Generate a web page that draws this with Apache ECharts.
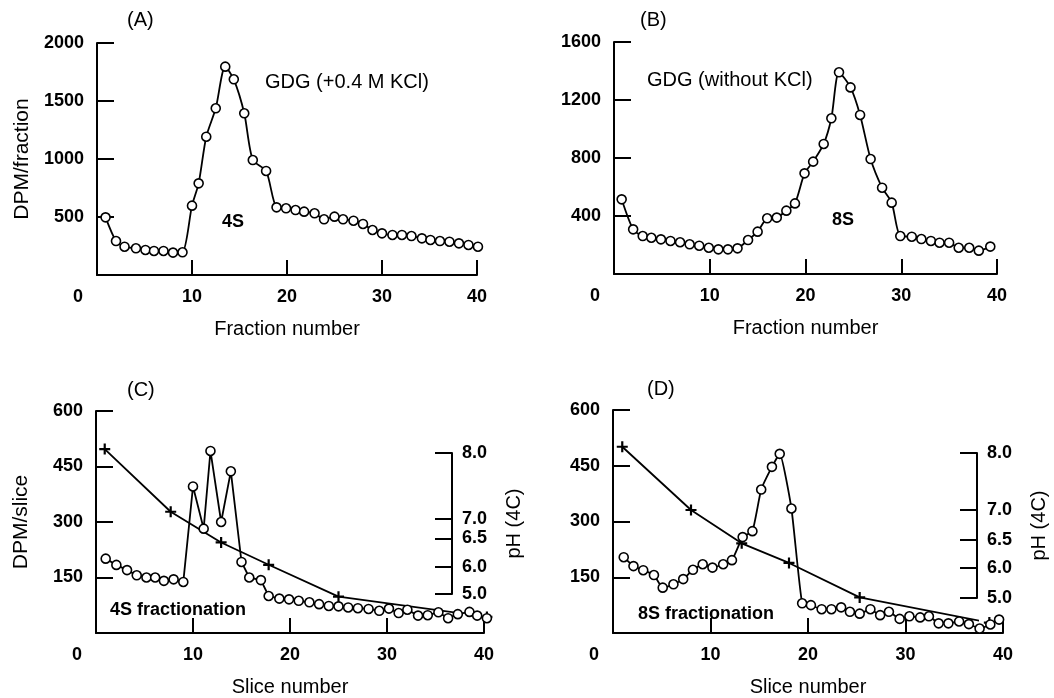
<!DOCTYPE html>
<html><head><meta charset="utf-8">
<script src="https://cdn.jsdelivr.net/npm/echarts@6/dist/echarts.min.js"></script>
<style>html,body{margin:0;padding:0;background:#fff}#c{width:1054px;height:698px}</style>
</head><body><div id="c"></div>
<script>
// ---------------- data ----------------
const X_TICKS = [0, 10, 20, 30, 40];
const A_Y_TICKS = [0, 500, 1000, 1500, 2000];
const B_Y_TICKS = [0, 400, 800, 1200, 1600];
const CD_Y_TICKS = [0, 150, 300, 450, 600];
const PH_TICKS = [5.0, 6.0, 6.5, 7.0, 8.0];

const A_FRACTION = [0.9, 2, 2.9, 4.1, 5.1, 6, 7, 8, 9, 10, 10.7, 11.5, 12.5, 13.5, 14.4, 15.5, 16.4, 17.8, 18.9, 19.9,
  20.9, 21.8, 22.9, 23.9, 25, 25.9, 27, 28, 29, 30, 31.1, 32.1, 33.1, 34.2, 35.1, 36.1, 37.1, 38.1, 39.1, 40.1];
const A_DPM = [497, 293, 244, 230, 216, 207, 207, 193, 196, 598, 790, 1192, 1437, 1796, 1687, 1394, 991, 897, 583, 575,
  560, 546, 532, 480, 503, 480, 468, 440, 388, 359, 345, 345, 336, 316, 302, 293, 287, 273, 259, 244];

const B_FRACTION = [0.8, 2, 3, 3.9, 4.9, 5.9, 6.9, 7.9, 8.9, 9.9, 10.9, 11.9, 12.9, 14, 15, 16, 17, 18, 18.9, 19.9,
  20.8, 21.9, 22.7, 23.5, 24.7, 25.7, 26.8, 28, 29, 29.9, 31.1, 32.1, 33.1, 34, 35, 36, 37.1, 38.1, 39.3];
const B_DPM = [515, 308, 262, 250, 239, 228, 219, 205, 195, 181, 170, 170, 177, 234, 292, 384, 389, 437, 487, 694,
  775, 897, 1074, 1391, 1287, 1097, 793, 595, 492, 262, 257, 241, 228, 216, 216, 181, 181, 161, 189];

const C_SLICE = [1.0, 2.1, 3.2, 4.2, 5.2, 6.1, 7.0, 8.0, 9.0, 10.0, 11.1, 11.8, 12.9, 13.9, 15.0, 15.8, 17.0, 17.8, 18.9, 19.9,
  20.9, 22.0, 23.0, 24.0, 25.0, 26.0, 27.0, 28.1, 29.2, 30.2, 31.2, 32.1, 33.2, 34.2, 35.3, 36.3, 37.3, 38.5, 39.3, 40.3];
const C_DPM = [201, 184, 170, 156, 150, 150, 141, 145, 138, 396, 282, 492, 300, 437, 192, 150, 143, 100, 93, 91,
  87, 83, 78, 73, 72, 69, 67, 65, 60, 66, 54, 63, 47, 48, 56, 40, 51, 57, 47, 40];
const C_PH_SLICE = [0.9, 7.7, 12.9, 17.8, 25.0, 40.3];
const C_PH = [8.06, 7.11, 6.43, 6.04, 4.90, 4.15];

const D_SLICE = [1.1, 2.1, 3.1, 4.2, 5.1, 6.2, 7.2, 8.2, 9.2, 10.2, 11.3, 12.2, 13.3, 14.3, 15.2, 16.3, 17.1, 18.3,
  19.4, 20.3, 21.4, 22.4, 23.4, 24.3, 25.3, 26.4, 27.4, 28.3, 29.4, 30.4, 31.5, 32.4, 33.4, 34.4, 35.5, 36.5, 37.6, 38.7, 39.6];
const D_DPM = [204, 180, 169, 156, 122, 131, 145, 170, 185, 176, 185, 196, 258, 274, 386, 447, 482, 335,
  80, 75, 64, 64, 69, 57, 52, 64, 48, 57, 38, 45, 42, 45, 26, 26, 31, 24, 12, 23, 36];
const D_PH_SLICE = [0.95, 8.0, 13.2, 18.05, 25.3, 38.6];
const D_PH = [8.11, 7.00, 6.44, 6.09, 5.02, 4.18];

// ---------------- scale definition for the hand-drawn (non-linear) pH axes ----------------
// fraction of the pH axis height at which each PH_TICKS value sits
const C_PH_SCALE = [0, 0.191, 0.394, 0.532, 1];
const D_PH_SCALE = [0, 0.207, 0.400, 0.607, 1];
function phMap(knots) {
  return function (p) {
    let i = 0;
    while (i < PH_TICKS.length - 2 && p > PH_TICKS[i + 1]) i++;
    const t = (p - PH_TICKS[i]) / (PH_TICKS[i + 1] - PH_TICKS[i]);
    return knots[i] + t * (knots[i + 1] - knots[i]);
  };
}
const cPh = phMap(C_PH_SCALE), dPh = phMap(D_PH_SCALE);

// ---------------- layout ----------------
const G_A = { left: 97, top: 43, width: 380, height: 232 };
const G_B = { left: 614, top: 42, width: 383, height: 232 };
const G_C = { left: 96, top: 411, width: 388, height: 223 };
const G_D = { left: 613, top: 410, width: 390, height: 224 };
// pH sub-grids: same left edge / x scale as the panel, right edge at the pH axis
const G_CPH = { left: 96, top: 453, width: 356, height: 141 };
const G_DPH = { left: 613, top: 453, width: 364, height: 145 };
const X_MAX = X_TICKS[X_TICKS.length - 1];

// ---------------- styling ----------------
const FONT = 'Liberation Sans';
const pairs = (xs, ys, f) => xs.map((x, i) => [x, f ? f(ys[i]) : ys[i]]);
const PLUS = 'path://M4,0H6V4H10V6H6V10H4V6H0V4H4Z';

function xAxis(grid, name) {
  return {
    gridIndex: grid, type: 'value', min: X_TICKS[0], max: X_MAX, interval: 10,
    axisLine: { onZero: false, lineStyle: { color: '#000', width: 2 } },
    axisTick: { inside: true, length: 15, lineStyle: { color: '#000', width: 2 } },
    splitLine: { show: false },
    axisLabel: {
      margin: 13, color: '#000', fontFamily: FONT, fontSize: 18, fontWeight: 'bold',
      formatter: v => v === 0 ? '{z|0}' : String(v),
      rich: { z: { fontFamily: FONT, fontSize: 18, fontWeight: 'bold', color: '#000', padding: [0, 38, 0, 0] } }
    },
    name: name, nameLocation: 'middle', nameGap: 44,
    nameTextStyle: { color: '#000', fontFamily: FONT, fontSize: 20 }
  };
}
function hiddenX(grid, g, main) {
  return { gridIndex: grid, type: 'value', min: 0, max: X_MAX * g.width / main.width, show: false };
}
function yAxis(grid, ticks, name) {
  return {
    gridIndex: grid, type: 'value', min: ticks[0], max: ticks[ticks.length - 1], interval: ticks[1] - ticks[0],
    axisLine: { show: true, onZero: false, lineStyle: { color: '#000', width: 2 } },
    axisTick: { show: true, inside: true, length: 17, lineStyle: { color: '#000', width: 2 } },
    splitLine: { show: false },
    axisLabel: { margin: 13, color: '#000', fontFamily: FONT, fontSize: 18, fontWeight: 'bold',
      formatter: v => v === 0 ? '' : String(v) },
    name: name || '', nameLocation: 'middle', nameGap: 64, nameRotate: 90,
    nameTextStyle: { color: '#000', fontFamily: FONT, fontSize: 21 }
  };
}
function phAxis(grid, knots) {
  const pos = knots.slice();
  return {
    gridIndex: grid, type: 'value', min: 0, max: 1, position: 'right',
    axisLine: { show: true, onZero: false, lineStyle: { color: '#000', width: 2 } },
    axisTick: { show: true, inside: true, length: 17, customValues: pos, lineStyle: { color: '#000', width: 2 } },
    splitLine: { show: false },
    axisLabel: { margin: 10, color: '#000', fontFamily: FONT, fontSize: 18, fontWeight: 'bold', customValues: pos,
      formatter: v => { let b = 0; pos.forEach((k, i) => { if (Math.abs(k - v) < Math.abs(pos[b] - v)) b = i; }); return PH_TICKS[b].toFixed(1); } },
    name: 'pH (4C)', nameLocation: 'middle', nameGap: 52, nameRotate: 90,
    nameTextStyle: { color: '#000', fontFamily: FONT, fontSize: 20 }
  };
}
function dpmSeries(idx, xs, ys, smooth) {
  return {
    type: 'line', xAxisIndex: idx, yAxisIndex: idx, data: pairs(xs, ys), smooth: smooth, clip: false, z: 3,
    symbol: 'circle', symbolSize: 9, showAllSymbol: true,
    itemStyle: { color: '#fff', borderColor: '#000', borderWidth: 1.6 },
    lineStyle: { color: '#000', width: 1.8 }
  };
}
function phSeries(idx, xs, ys, f) {
  return {
    type: 'line', xAxisIndex: idx, yAxisIndex: idx, data: pairs(xs, ys, f), clip: false, z: 2,
    symbol: PLUS, symbolSize: 11, itemStyle: { color: '#000' },
    lineStyle: { color: '#000', width: 1.8 }
  };
}
function txt(x, y, s, opts) {
  return { type: 'text', x: x, y: y, style: Object.assign({ text: s, fill: '#000', font: '20px "' + FONT + '"',
    align: 'left', verticalAlign: 'middle' }, opts || {}) };
}

const option = {
  animation: false,
  backgroundColor: '#fff',
  grid: [G_A, G_B, G_C, G_D, G_CPH, G_DPH],
  xAxis: [
    xAxis(0, 'Fraction number'), xAxis(1, 'Fraction number'), xAxis(2, 'Slice number'), xAxis(3, 'Slice number'),
    hiddenX(4, G_CPH, G_C), hiddenX(5, G_DPH, G_D)
  ],
  yAxis: [
    yAxis(0, A_Y_TICKS, 'DPM/fraction'), yAxis(1, B_Y_TICKS), yAxis(2, CD_Y_TICKS, 'DPM/slice'), yAxis(3, CD_Y_TICKS),
    phAxis(4, C_PH_SCALE), phAxis(5, D_PH_SCALE)
  ],
  series: [
    dpmSeries(0, A_FRACTION, A_DPM, 0.25),
    dpmSeries(1, B_FRACTION, B_DPM, 0.25),
    dpmSeries(2, C_SLICE, C_DPM, false),
    dpmSeries(3, D_SLICE, D_DPM, 0.15),
    phSeries(4, C_PH_SLICE, C_PH, cPh),
    phSeries(5, D_PH_SLICE, D_PH, dPh)
  ],
  graphic: [
    txt(127, 20, '(A)'), txt(640, 20, '(B)'), txt(127, 390, '(C)'), txt(647, 389, '(D)'),
    txt(265, 82, 'GDG (+0.4 M KCl)'), txt(647, 80, 'GDG (without KCl)'),
    txt(233, 222, '4S', { align: 'center', font: 'bold 18px "' + FONT + '"' }),
    txt(843, 220, '8S', { align: 'center', font: 'bold 18px "' + FONT + '"' }),
    txt(110, 610, '4S fractionation', { font: 'bold 18px "' + FONT + '"' }),
    txt(638, 614, '8S fractionation', { font: 'bold 18px "' + FONT + '"' })
  ]
};
echarts.init(document.getElementById('c'), null, { renderer: 'canvas' }).setOption(option);
</script>
</body></html>
